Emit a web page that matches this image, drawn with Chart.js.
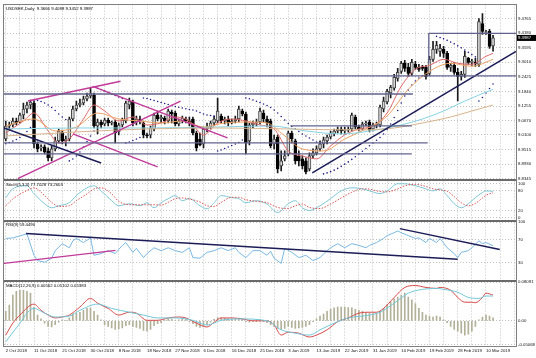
<!DOCTYPE html>
<html><head><meta charset="utf-8">
<script src="https://cdn.jsdelivr.net/npm/chart.js@4.4.1/dist/chart.umd.min.js"></script>
<style>html,body{margin:0;padding:0;background:#fff;}#wrap{width:536px;height:358px;}</style>
</head><body><div id="wrap"><canvas id="c" width="536" height="358"></canvas></div>
<script>
const symbolText = 'USDSEK,Daily';
const dateLabels = ["2 Oct 2018","11 Oct 2018","21 Oct 2018","30 Oct 2018","8 Nov 2018","18 Nov 2018","27 Nov 2018","6 Dec 2018","16 Dec 2018","25 Dec 2018","3 Jan 2019","13 Jan 2019","22 Jan 2019","31 Jan 2019","10 Feb 2019","19 Feb 2019","28 Feb 2019","10 Mar 2019"];
const dateLabelBars = [0,8,16,24,32,40,48,56,64,72,80,88,96,104,112,120,128,136];
const gridBars = [0,4,8,12,16,20,24,28,32,36,40,44,48,52,56,60,64,68,72,76,80,84,88,92,96,100,104,108,112,116,120,124,128,132,136,140,144];
const mainTickLabels = ["9.4765","9.4180","9.3595","9.3010","9.2425","9.1840","9.1255","9.0670","9.0100","8.9515","8.8930","8.8345"];
const stochTicks = [100,80,20,0];
const rsiTicks = [100,70,30];
const macdTicks = [0.08091,0,-0.05068];
const macdTickLabels = ["0.08091","0.00","-0.05068"];
const paneTitles = ['Stoch(5,3,3) 77.7028 73.2603','RSI(9) 59.4490','MACD(12,26,9) 0.00562 0.05102 0.05383'];

const openP = [
8.994,9.046,9.050,9.066,9.062,9.090,9.114,9.130,9.138,8.974,
8.958,8.962,8.946,8.918,8.954,8.986,9.022,8.986,8.994,9.074,
9.114,9.130,9.138,9.154,9.166,9.170,9.046,9.062,9.054,9.070,
9.058,9.062,9.022,9.050,9.066,9.130,9.142,9.062,9.074,9.058,
9.010,9.010,9.034,9.090,9.074,9.078,9.066,9.102,9.098,9.054,
9.066,9.074,9.066,9.074,9.018,8.994,8.974,9.034,9.042,9.058,
9.066,9.086,9.066,9.074,9.058,9.066,9.074,9.106,9.094,8.986,
9.050,9.058,9.062,9.098,9.074,9.066,8.974,9.002,8.886,8.914,
8.934,9.018,8.986,8.926,8.914,8.906,8.874,8.926,8.938,8.954,
8.974,8.986,9.002,9.014,9.026,9.034,9.026,9.030,9.034,9.082,
9.042,9.034,9.054,9.062,9.034,9.050,9.050,9.114,9.142,9.178,
9.197,9.237,9.265,9.297,9.281,9.257,9.293,9.281,9.281,9.281,
9.257,9.313,9.353,9.345,9.353,9.337,9.281,9.289,9.261,9.245,
9.253,9.317,9.301,9.301,9.293,9.456,9.421,9.425,9.3666];
const highP = [
9.066,9.062,9.078,9.078,9.098,9.138,9.142,9.150,9.146,8.982,
8.970,8.970,8.958,8.966,9.002,9.034,9.030,9.006,9.082,9.126,
9.146,9.154,9.166,9.178,9.197,9.178,9.074,9.070,9.078,9.078,
9.066,9.070,9.058,9.078,9.146,9.158,9.150,9.086,9.086,9.066,
9.018,9.046,9.098,9.106,9.090,9.086,9.114,9.110,9.106,9.074,
9.086,9.082,9.082,9.082,9.026,9.018,9.042,9.058,9.066,9.086,
9.158,9.094,9.082,9.086,9.074,9.086,9.126,9.114,9.102,9.058,
9.066,9.074,9.118,9.110,9.086,9.074,9.010,9.010,8.946,8.946,
9.026,9.026,8.994,8.946,8.926,8.918,8.938,8.954,8.966,8.986,
9.002,9.010,9.026,9.034,9.042,9.042,9.042,9.042,9.098,9.090,
9.050,9.062,9.066,9.070,9.058,9.062,9.130,9.162,9.193,9.209,
9.253,9.277,9.305,9.309,9.297,9.313,9.305,9.293,9.289,9.289,
9.325,9.385,9.385,9.373,9.365,9.345,9.297,9.301,9.277,9.265,
9.345,9.321,9.313,9.317,9.476,9.496,9.429,9.433,9.4088];
const lowP = [
8.986,9.034,9.042,9.050,9.058,9.074,9.098,9.114,8.958,8.942,
8.946,8.934,8.906,8.906,8.946,8.978,8.974,8.966,8.986,9.066,
9.106,9.122,9.130,9.146,9.158,9.038,9.014,9.038,9.046,9.046,
9.050,8.978,9.010,9.042,9.058,9.114,9.046,9.050,9.054,8.998,
8.998,8.998,9.026,9.066,9.058,9.054,9.058,9.058,9.046,9.046,
9.058,9.058,9.046,9.010,8.946,8.966,8.958,9.022,9.034,9.050,
9.058,9.058,9.054,9.046,9.054,9.058,9.062,9.086,8.934,8.970,
9.038,9.046,9.054,9.062,9.042,8.958,8.954,8.858,8.866,8.906,
8.926,8.978,8.894,8.886,8.874,8.854,8.866,8.918,8.930,8.946,
8.958,8.974,8.994,9.006,9.018,9.014,9.014,9.022,9.026,9.034,
9.026,9.030,9.046,9.022,9.026,9.038,9.042,9.102,9.134,9.158,
9.189,9.225,9.257,9.265,9.245,9.249,9.273,9.265,9.269,9.233,
9.249,9.305,9.337,9.325,9.321,9.273,9.265,9.253,9.146,9.229,
9.241,9.293,9.289,9.285,9.285,9.413,9.413,9.357,9.3452];
const closeP = [
9.046,9.050,9.066,9.058,9.090,9.114,9.130,9.142,8.974,8.954,
8.962,8.942,8.918,8.954,8.986,9.026,8.986,8.994,9.074,9.114,
9.130,9.138,9.154,9.166,9.178,9.046,9.062,9.050,9.070,9.058,
9.062,9.018,9.050,9.070,9.138,9.146,9.058,9.074,9.066,9.010,
9.006,9.038,9.090,9.074,9.082,9.066,9.106,9.094,9.054,9.066,
9.078,9.066,9.058,9.018,8.958,8.970,9.034,9.042,9.058,9.074,
9.106,9.066,9.074,9.058,9.066,9.074,9.114,9.094,8.978,9.050,
9.058,9.062,9.106,9.074,9.058,8.966,8.994,8.874,8.906,8.926,
9.018,8.994,8.906,8.906,8.886,8.862,8.926,8.938,8.954,8.974,
8.990,9.002,9.018,9.026,9.034,9.026,9.030,9.034,9.090,9.042,
9.034,9.054,9.058,9.030,9.050,9.054,9.122,9.146,9.185,9.201,
9.241,9.261,9.297,9.277,9.257,9.301,9.281,9.273,9.277,9.245,
9.313,9.353,9.369,9.357,9.337,9.281,9.289,9.261,9.245,9.253,
9.325,9.301,9.305,9.297,9.464,9.425,9.423,9.365,9.3987];

const sarVal = [
8.975,8.980,8.986,8.992,9.000,9.010,9.024,9.040,9.150,9.148,
9.144,9.138,9.130,9.120,9.108,9.094,9.082,9.072,8.906,8.914,
8.926,8.942,8.962,8.984,9.006,9.026,9.197,9.192,9.186,9.180,
9.174,9.168,9.162,9.156,8.978,8.982,8.988,8.994,9.000,9.158,
9.156,9.152,9.148,9.144,9.140,9.136,9.132,9.128,9.124,9.121,
9.118,9.115,9.112,9.110,9.106,9.100,9.094,9.090,9.088,9.086,
8.946,8.950,8.956,8.962,8.968,8.974,8.980,8.990,9.158,9.155,
9.150,9.145,9.140,9.134,9.128,9.120,9.110,9.098,9.084,9.070,
9.056,9.044,9.034,9.024,9.014,9.006,8.998,8.990,8.982,8.976,
8.854,8.858,8.863,8.869,8.876,8.884,8.893,8.902,8.912,8.923,
8.934,8.945,8.956,8.967,8.978,8.989,9.000,9.014,9.032,9.054,
9.080,9.108,9.138,9.166,9.190,9.210,9.226,9.238,9.246,null,
null,null,9.405,9.400,9.395,9.389,9.382,9.375,9.367,9.359,
9.350,9.341,9.332,9.323,9.146,9.160,9.178,9.196,9.214];

const maFastIdx = [0,5,8,12,15,18,22,25,28,32,36,40,44,48,52,56,60,64,68,72,76,80,84,88,92,96,100,104,108,112,116,120,124,128,132,136,138];
const maFastVal = [9.018,9.066,9.098,9.026,8.978,8.994,9.074,9.130,9.106,9.066,9.082,9.050,9.058,9.082,9.066,9.010,9.058,9.074,9.066,9.050,9.034,8.946,8.926,8.914,8.966,9.010,9.034,9.046,9.098,9.205,9.273,9.289,9.313,9.297,9.293,9.325,9.337];
const maMidIdx = [0,8,14,20,26,32,38,44,50,56,62,68,74,78,84,90,96,102,108,114,120,126,132,138];
const maMidVal = [9.046,9.074,9.026,9.042,9.098,9.074,9.066,9.058,9.066,9.042,9.058,9.062,9.058,9.018,8.954,8.946,8.994,9.034,9.086,9.193,9.265,9.297,9.285,9.313];
const maSlowIdx = [0,20,40,60,75,85,95,105,112,118,124,130,138];
const maSlowVal = [9.034,9.038,9.038,9.042,9.046,9.026,9.014,9.030,9.050,9.074,9.106,9.146,9.193];
const maLongIdx = [0,10,20,40,60,80,100,110,118,126,132,138];
const maLongVal = [9.006,9.014,9.022,9.034,9.038,9.034,9.030,9.038,9.058,9.082,9.106,9.130];

// segments [x1, value1, x2, value2]
const levelLines = [[-0.5,9.247,144.5,9.247],[-0.5,9.174,115.3,9.174],[80.6,9.046,115,9.046],[-0.5,8.978,119.5,8.978],[-0.5,8.934,115,8.934],[119.8,9.417,144.5,9.417],[119.8,9.417,119.8,9.297]];
const mainNavyLines = [[-0.5,9.038,27,8.898],[86.8,8.858,144.5,9.345]];
const mainPinkLines = [[3.4,8.835,49.5,9.146],[6.3,9.146,32.5,9.225],[24.6,9.205,62.8,8.998],[19,9.014,43,8.882]];
const rsiNavyLines = [[5.7,80.6,128,36],[111.6,89,139.9,53]];
const rsiPinkLines = [[-0.5,29,31.1,51.5]];

const stochIdx = [0,2,6,8,11,13,15,18,20,23,25,27,30,32,35,38,40,42,44,46,48,50,52,55,57,59,61,64,66,68,71,74,77,80,82,84,86,89,92,95,98,101,103,106,108,111,113,116,119,121,123,125,127,129,131,133,135,136,138];
const stochKVal = [59,85,94,71,41,29,35,44,65,88,94,79,50,35,41,35,44,29,44,56,65,50,56,35,26,44,65,59,56,44,50,40,15,41,50,29,21,35,56,79,88,85,79,71,79,100,100,94,85,79,85,65,41,29,41,59,74,79,77.7];
const stochDVal = [35,55,80,88,65,45,33,35,50,70,85,88,70,48,38,38,38,38,37,45,56,58,55,46,35,33,45,60,60,53,48,44,30,27,35,40,30,27,40,58,75,85,84,77,76,85,94,98,92,85,82,78,62,44,35,42,58,66,73.26];

const rsiIdx = [0,2,6,8,9,11,13,14,16,18,19,20,22,24,25,27,29,31,33,34,36,37,39,40,42,44,46,48,50,52,53,55,57,59,61,63,65,66,68,70,72,74,75,76,78,79,81,83,85,87,89,91,92,94,96,98,100,102,103,105,107,108,110,111,112,114,116,117,119,120,122,123,125,127,128,129,131,132,134,135,136,138];
const rsiVal = [72,73,80,43,34,31,38,51,63,56,68,72,65,73,43,46,51,46,60,65,48,55,39,46,56,51,56,51,48,56,39,38,48,51,56,51,56,48,39,51,51,43,50,38,29,55,48,39,43,34,39,51,56,63,56,63,60,56,60,65,72,77,82,85,82,77,72,73,65,72,65,72,56,46,39,48,51,56,68,63,65,59.45];

const macdIdx = [0,2,4,8,10,12,14,16,18,21,24,26,29,32,35,37,40,43,46,49,51,54,57,59,61,64,67,70,74,76,78,80,83,86,88,91,94,97,100,103,105,107,110,113,116,119,122,123,126,128,130,132,133,135,136,138];
const macdVal = [-0.030,-0.005,0.012,0.035,0.022,0.012,0.006,0.008,0.012,0.029,0.047,0.037,0.026,0.012,0.018,0.016,0.001,0.001,0.006,0.008,0.006,-0.005,-0.013,-0.003,0.006,0.006,0.004,0,0,-0.009,-0.030,-0.024,-0.026,-0.034,-0.030,-0.019,-0.002,0.006,0.016,0.018,0.018,0.026,0.049,0.070,0.074,0.070,0.068,0.070,0.064,0.049,0.039,0.039,0.038,0.049,0.058,0.054];
const signalIdx = [0,3,8,11,14,18,21,26,30,35,39,43,48,53,57,61,66,74,78,82,86,89,93,97,103,106,110,114,118,122,124,128,131,134,136,138];
const signalVal = [-0.044,-0.015,0.026,0.016,0.008,0.010,0.022,0.035,0.026,0.018,0.012,0.006,0.006,0.001,-0.009,0.001,0.004,0,-0.019,-0.026,-0.030,-0.019,-0.005,0.006,0.012,0.018,0.037,0.058,0.066,0.068,0.066,0.060,0.049,0.047,0.052,0.052];
const macdHist = [
0.02,0.033,0.054,0.062,0.064,0.064,0.062,0.058,0.029,0.012,
0.004,-0.005,-0.012,-0.013,-0.008,-0.003,0.002,0.001,0.006,0.014,
0.016,0.018,0.022,0.026,0.027,0.02,0.012,0.002,-0.008,-0.012,
-0.015,-0.018,-0.017,-0.015,-0.01,-0.008,-0.012,-0.014,-0.016,-0.02,
-0.022,-0.018,-0.01,-0.006,-0.004,0.002,0.004,0.003,0.001,0.002,
0.004,0.003,-0.002,-0.006,-0.012,-0.014,-0.013,-0.008,-0.003,0.003,
0.006,0.006,0.005,0.004,0.004,0.003,0.004,0.003,-0.002,-0.003,
-0.002,-0.002,-0.001,-0.002,-0.004,-0.008,-0.012,-0.016,-0.018,-0.016,
-0.012,-0.014,-0.016,-0.015,-0.014,-0.012,-0.008,-0.002,0.004,0.01,
0.014,0.02,0.024,0.027,0.029,0.029,0.029,0.028,0.027,0.024,
0.022,0.02,0.018,0.016,0.015,0.016,0.02,0.026,0.034,0.04,
0.046,0.05,0.054,0.058,0.05,0.044,0.036,0.026,0.018,0.012,
0.01,0.008,0.01,0.008,0.002,-0.004,-0.012,-0.018,-0.022,-0.026,
-0.03,-0.028,-0.022,-0.012,0.002,0.008,0.012,0.01,0.006];

// ---------- build ----------
const FONT = {family: "'Liberation Sans', Arial, sans-serif", size: 4.3};
const barIdx = openP.map((_, i) => i);
const pts = (xs, vs) => xs.map((x, k) => ({x: x, y: vs[k]}));
const seg = s => [{x: s[0], y: s[1]}, {x: s[2], y: s[3]}];
function lineDs(axis, data, color, width, extra) {
  return Object.assign({type: 'line', yAxisID: axis, data: data, borderColor: color, borderWidth: width,
    pointRadius: 0, fill: false, tension: 0, order: 2}, extra || {});
}
const smooth = {cubicInterpolationMode: 'monotone'};
const ds = [];
ds.push({type: 'bar', yAxisID: 'yMain', order: 3, grouped: false, barThickness: 3, borderWidth: 1, borderSkipped: false,
  data: barIdx.map(i => ({x: i, y: [openP[i], closeP[i]]})),
  backgroundColor: barIdx.map(i => closeP[i] >= openP[i] ? '#d8d8d8' : '#000000'),
  borderColor: barIdx.map(i => closeP[i] >= openP[i] ? '#444444' : '#000000')});
ds.push({type: 'bar', yAxisID: 'yMain', order: 4, grouped: false, barThickness: 1,
  data: barIdx.map(i => ({x: i, y: [lowP[i], highP[i]]})), backgroundColor: '#1a1a1a'});
ds.push(lineDs('yMain', pts(maLongIdx, maLongVal), '#d9b38c', 1, smooth));
ds.push(lineDs('yMain', pts(maSlowIdx, maSlowVal), '#86d2e2', 1, smooth));
ds.push(lineDs('yMain', pts(maMidIdx, maMidVal), '#eea060', 1, smooth));
ds.push(lineDs('yMain', pts(maFastIdx, maFastVal), '#e06868', 1, smooth));
ds.push({type: 'line', yAxisID: 'yMain', order: 2, showLine: false, data: sarVal.map((v, i) => ({x: i, y: v})),
  pointRadius: 0.8, pointBorderWidth: 0, pointBackgroundColor: '#1e1e8a'});
levelLines.forEach(s => ds.push(lineDs('yMain', seg(s), '#62628e', 1.3, {order: 1})));
mainNavyLines.forEach(s => ds.push(lineDs('yMain', seg(s), '#1c1c58', 1.5, {order: 1})));
mainPinkLines.forEach(s => ds.push(lineDs('yMain', seg(s), '#c23a9a', 1.4, {order: 1})));
ds.push(lineDs('yStoch', pts(stochIdx, stochDVal), '#d85050', 1, Object.assign({borderDash: [1.5, 1.5]}, smooth)));
ds.push(lineDs('yStoch', pts(stochIdx, stochKVal), '#7cc6d6', 1, smooth));
ds.push(lineDs('yRsi', pts(rsiIdx, rsiVal), '#7ab8e0', 1));
rsiNavyLines.forEach(s => ds.push(lineDs('yRsi', seg(s), '#1c1c58', 1.5, {order: 1})));
rsiPinkLines.forEach(s => ds.push(lineDs('yRsi', seg(s), '#c23a9a', 1.4, {order: 1})));
ds.push({type: 'bar', yAxisID: 'yMacd', order: 3, grouped: false, barThickness: 1,
  data: macdHist.map((v, i) => ({x: i, y: v})), backgroundColor: '#b2b098'});
ds.push(lineDs('yMacd', pts(signalIdx, signalVal), '#72c8da', 1, smooth));
ds.push(lineDs('yMacd', pts(macdIdx, macdVal), '#d84848', 1, smooth));

function yAxis(weight, min, max, tickVals, tickText) {
  return {type: 'linear', position: 'right', stack: 'panes', stackWeight: weight, min: min, max: max, offset: false,
    afterBuildTicks: s => { s.ticks = tickVals.map(v => ({value: v})); },
    afterFit: s => { s.width = 20; },
    ticks: {autoSkip: false, font: FONT, color: '#111', padding: 2, callback: (v, i) => tickText[i]},
    grid: {color: '#c2c2c2', lineWidth: 1, drawTicks: false},
    border: {display: false, dash: [1, 2]}};
}

const overlay = {
  id: 'overlay',
  afterDraw(chart) {
    const ctx = chart.ctx, a = chart.chartArea, sc = chart.scales;
    ctx.save();
    ctx.strokeStyle = '#808080'; ctx.lineWidth = 1;
    ctx.strokeRect(Math.round(a.left) - 0.5, Math.round(a.top) - 0.5, Math.round(a.right - a.left) + 1, Math.round(a.bottom - a.top) + 1);
    ctx.strokeStyle = '#6a6a6a'; ctx.lineWidth = 2;
    ['yStoch', 'yRsi', 'yMacd'].forEach(id => {
      const y = Math.round(sc[id].top);
      ctx.beginPath(); ctx.moveTo(a.left, y); ctx.lineTo(a.right, y); ctx.stroke();
    });
    ctx.font = FONT.size + 'px ' + FONT.family;
    ctx.fillStyle = '#000'; ctx.textBaseline = 'top'; ctx.textAlign = 'left';
    const last = closeP.length - 1;
    ctx.fillText(symbolText + '  ' + [openP[last], highP[last], lowP[last], closeP[last]].map(v => v.toFixed(4)).join(' '), a.left + 2, a.top + 2);
    ['yStoch', 'yRsi', 'yMacd'].forEach((id, k) => ctx.fillText(paneTitles[k], a.left + 2, sc[id].top + 2.5));
    const py = sc.yMain.getPixelForValue(closeP[last]);
    ctx.fillStyle = '#000'; ctx.fillRect(a.right + 1, py - 3, 19, 6);
    ctx.fillStyle = '#fff'; ctx.textBaseline = 'middle';
    ctx.fillText(closeP[last].toFixed(4), a.right + 2, py + 0.3);
    ctx.restore();
  }
};

new Chart(document.getElementById('c'), {
  type: 'line',
  data: {datasets: ds},
  options: {
    responsive: false, animation: false, devicePixelRatio: 1,
    layout: {padding: {left: 3, top: 3, right: 0, bottom: 0}},
    plugins: {legend: {display: false}, tooltip: {enabled: false}},
    scales: {
      x: {type: 'linear', position: 'bottom', min: -0.5, max: 144.5, offset: false,
        afterBuildTicks: s => { s.ticks = gridBars.map(v => ({value: v})); },
        afterFit: s => { s.height = 12; },
        ticks: {autoSkip: false, maxRotation: 0, minRotation: 0, align: 'start', font: FONT, color: '#111', padding: 2,
          callback: v => { const k = dateLabelBars.indexOf(v); return k >= 0 ? dateLabels[k] : ''; }},
        grid: {color: '#c2c2c2', lineWidth: 1, drawTicks: false, offset: false},
        border: {display: false, dash: [1, 2]}},
      yMain: yAxis(176, 8.8305, 9.5323, mainTickLabels.map(t => parseFloat(t)), mainTickLabels),
      yStoch: yAxis(41, -8.8, 111.8, stochTicks, stochTicks.map(String)),
      yRsi: yAxis(61, -1.9, 102.9, rsiTicks, rsiTicks.map(String)),
      yMacd: yAxis(65, -0.0529, 0.0829, macdTicks, macdTickLabels)
    }
  },
  plugins: [overlay]
});
</script>
</body></html>
